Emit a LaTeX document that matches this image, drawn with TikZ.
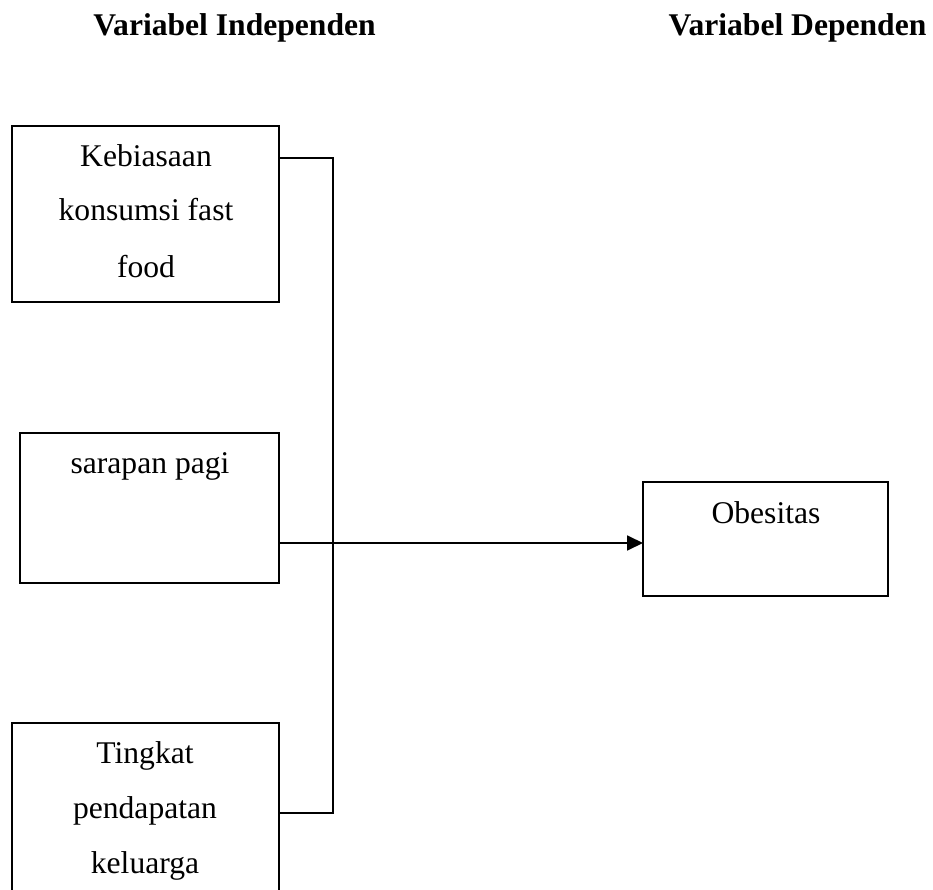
\documentclass[tikz,border=0pt]{standalone}
\usepackage{fontspec}
\setmainfont{Liberation Serif}
\usetikzlibrary{arrows.meta}
\tikzset{
  box/.style={draw, line width=1.8pt, inner sep=0pt, outer sep=0pt},
  txt/.style={anchor=base, inner sep=0pt, font=\fontsize{31.6}{40}\selectfont},
  ttl/.style={anchor=base, inner sep=0pt, font=\fontsize{31.6}{40}\selectfont\bfseries},
  conn/.style={line width=1.8pt},
}
\begin{document}
\begin{tikzpicture}[x=1pt,y=-1pt]
\clip (0,0) rectangle (933,890);
\fill[white] (0,0) rectangle (933,890);
% titles
\node[ttl] (t1) at (234.5,36) {Variabel Independen};
\node[ttl] (t2) at (797.5,36) {Variabel Dependen};
% boxes
\node[box, minimum width=267pt, minimum height=176pt] (b1) at (145.5,214) {};
\node[box, minimum width=259pt, minimum height=150pt] (b2) at (149.5,508) {};
\node[box, minimum width=267pt, minimum height=182pt] (b3) at (145.5,814) {};
\node[box, minimum width=245pt, minimum height=114pt] (obes) at (765.5,539) {};
% texts
\node[txt] (k1) at (146,167) {Kebiasaan};
\node[txt] (k2) at (146,221) {konsumsi fast};
\node[txt] (k3) at (146,277) {food};
\node[txt] (s1) at (150,473) {sarapan pagi};
\node[txt] (p1) at (145,763) {Tingkat};
\node[txt] (p2) at (145,818) {pendapatan};
\node[txt] (p3) at (145,873) {keluarga};
\node[txt] (o1) at (766,523) {Obesitas};
% connectors
\coordinate (v1) at (333,158);
\coordinate (v3) at (333,813);
\coordinate (m) at (333,543);
\draw[conn] (b1.east |- v1) -- (v1) -- (v3) -- (b3.east |- v3);
\draw[conn, -{Triangle[length=16pt,width=15pt]}] (b2.east |- m) -- (obes.west |- m);
\end{tikzpicture}
\end{document}
